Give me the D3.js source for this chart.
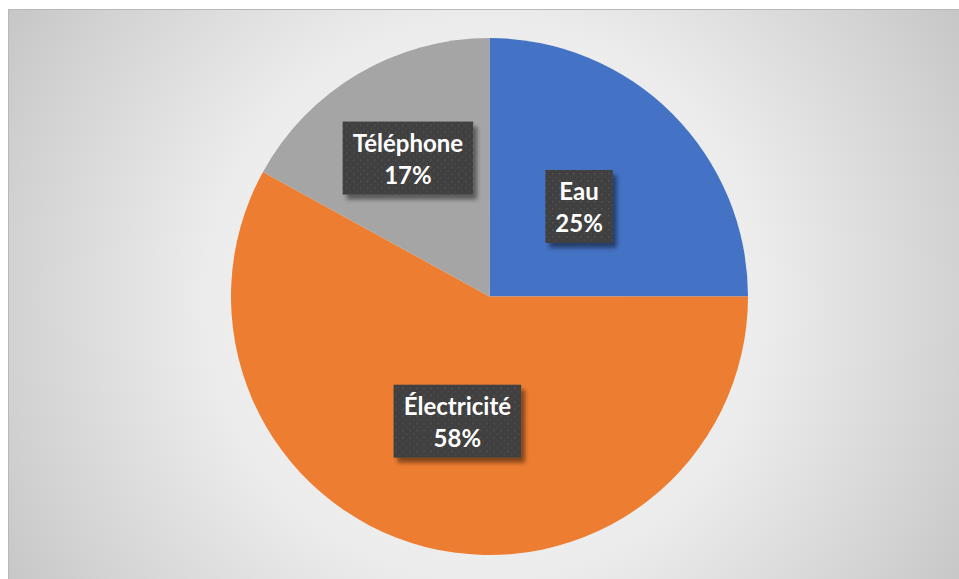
<!DOCTYPE html>
<html>
<head>
<meta charset="utf-8">
<script src="https://cdn.jsdelivr.net/npm/d3@7"></script>
<style>
  html, body { margin: 0; padding: 0; background: #ffffff; }
  svg { display: block; }
</style>
</head>
<body>
<svg id="chart" width="959" height="579"></svg>
<script>
// Répartition des dépenses
const categories = ["Eau", "Électricité", "Téléphone"];
const values = [25, 58, 17];
const colors = ["#4472C4", "#ED7D31", "#A5A5A5"];

const W = 959, H = 579;
const svg = d3.select("#chart");
const defs = svg.append("defs");

// Background radial gradient of the chart area
const bg = defs.append("radialGradient")
  .attr("id", "bgGrad")
  .attr("gradientUnits", "userSpaceOnUse")
  .attr("cx", 485).attr("cy", 300).attr("r", 580);
[[0, "#f4f4f4"], [0.48, "#ececec"], [0.82, "#d2d2d2"], [1, "#c3c3c3"]]
  .forEach(([o, c]) => bg.append("stop").attr("offset", o).attr("stop-color", c));

// Dotted fill for the data labels
const pat = defs.append("pattern")
  .attr("id", "dots")
  .attr("patternUnits", "userSpaceOnUse")
  .attr("width", 7).attr("height", 7);
pat.append("rect").attr("width", 7).attr("height", 7).attr("fill", "#404040");
pat.append("rect").attr("x", 1).attr("y", 1).attr("width", 1.4).attr("height", 1.4).attr("fill", "#565656");
pat.append("rect").attr("x", 4.5).attr("y", 4.5).attr("width", 1.4).attr("height", 1.4).attr("fill", "#4d4d4d");

const shadow = defs.append("filter").attr("id", "shadow")
  .attr("x", "-20%").attr("y", "-20%").attr("width", "150%").attr("height", "150%");
shadow.append("feGaussianBlur").attr("in", "SourceAlpha").attr("stdDeviation", 2).attr("result", "b");
shadow.append("feOffset").attr("in", "b").attr("dx", 4).attr("dy", 5).attr("result", "o");
shadow.append("feComponentTransfer").attr("in", "o").attr("result", "s")
  .append("feFuncA").attr("type", "linear").attr("slope", 0.45);
const merge = shadow.append("feMerge");
merge.append("feMergeNode").attr("in", "s");
merge.append("feMergeNode").attr("in", "SourceGraphic");

// Chart area
svg.append("rect")
  .attr("x", 8.5).attr("y", 9.5)
  .attr("width", W + 10).attr("height", H + 10)
  .attr("fill", "url(#bgGrad)")
  .attr("stroke", "#b8b8b8").attr("stroke-width", 1);

// Pie
const cx = 489.5, cy = 296.5, R = 258.5;
const pie = d3.pie().sort(null).value(d => d.value);
const arcs = pie(categories.map((c, i) => ({ name: c, value: values[i], color: colors[i] })));
const arc = d3.arc().innerRadius(0).outerRadius(R);

const g = svg.append("g").attr("transform", `translate(${cx},${cy})`);
g.selectAll("path.slice")
  .data(arcs)
  .join("path")
  .attr("class", "slice")
  .attr("d", arc)
  .attr("fill", d => d.data.color);

// Label placement: distance of each label from the centre, as a share of the radius
const labelRadius = { "Eau": 0.49, "Électricité": 0.5, "Téléphone": 0.62 };
const fmt = d3.format(".0%");
const total = d3.sum(values);

const labels = g.selectAll("g.label")
  .data(arcs)
  .join("g")
  .attr("class", "label")
  .attr("transform", d => {
    const a = (d.startAngle + d.endAngle) / 2;
    const r = R * labelRadius[d.data.name];
    return `translate(${r * Math.sin(a)},${-r * Math.cos(a)})`;
  });

labels.each(function(d) {
  const el = d3.select(this);
  const box = el.append("rect").attr("fill", "url(#dots)").attr("filter", "url(#shadow)");
  const t = el.append("text")
    .attr("text-anchor", "middle")
    .attr("fill", "#ffffff")
    .style("font-family", "Lato, 'Open Sans', sans-serif")
    .style("font-weight", "bold")
    .style("font-size", "24px");
  t.append("tspan").attr("x", 0).attr("y", -7).text(d.data.name);
  t.append("tspan").attr("x", 0).attr("y", 25).text(fmt(d.data.value / total));
  const bb = t.node().getBBox();
  const w = bb.width + 20, h = 73;
  box.attr("x", -w / 2).attr("y", -37).attr("width", w).attr("height", h);
});
</script>
</body>
</html>
